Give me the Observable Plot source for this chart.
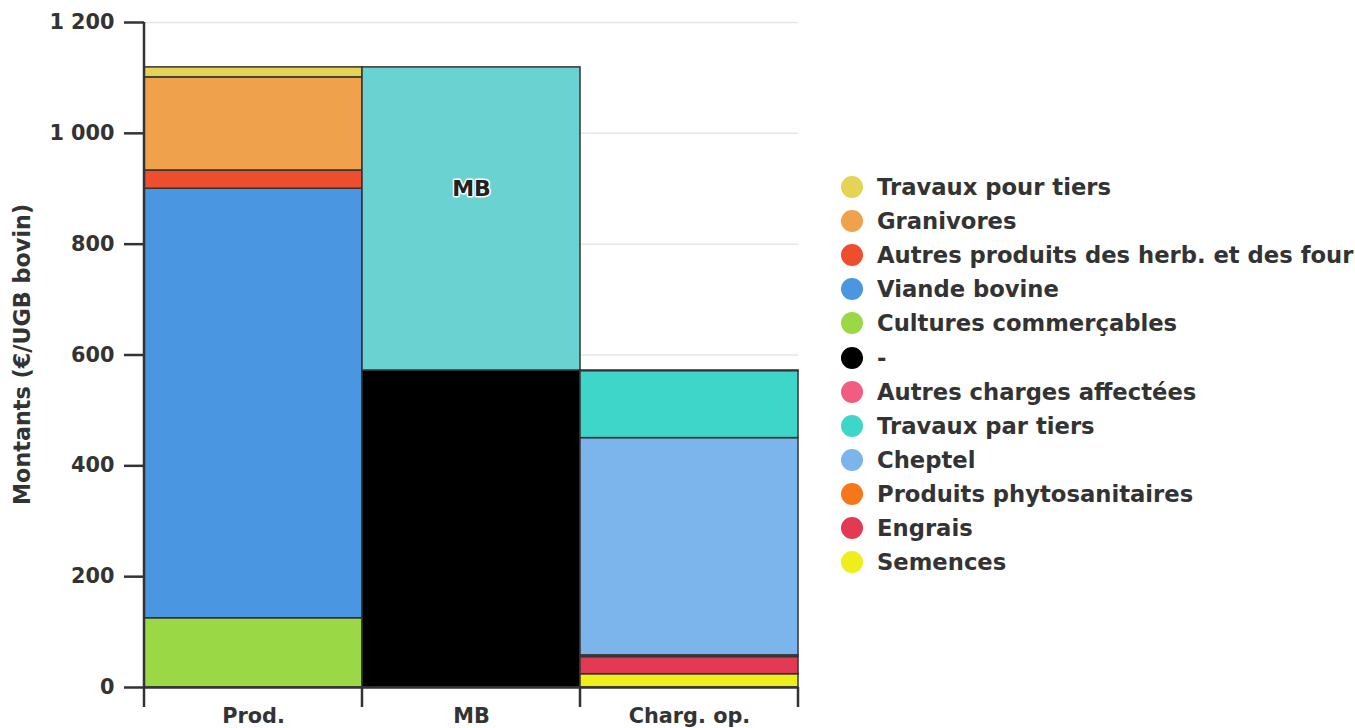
<!DOCTYPE html>
<html><head><meta charset="utf-8">
<script src="https://cdn.jsdelivr.net/npm/d3@7"></script>
<script src="https://cdn.jsdelivr.net/npm/@observablehq/plot@0.6"></script>
<style>
html,body{margin:0;padding:0;background:#fff;overflow:hidden;width:1355px;height:728px}
#wrap{position:relative;width:1355px;height:728px;font-family:"DejaVu Sans",sans-serif;overflow:hidden}
#chart{position:absolute;left:0;top:0}
#legend{position:absolute;left:841px;top:170px;white-space:nowrap}
.row{height:34.1px;display:flex;align-items:center;font-weight:bold;font-size:22.7px;color:#333}
.dot{width:22px;height:22px;border-radius:50%;margin-right:14px;flex:none}
</style></head><body><div id="wrap"><div id="chart"></div><div id="legend"></div></div>
<script>
// ---- data ----
const categories = ["Prod.", "MB", "Charg. op."];
// bottom-to-top stacking order in each column
const prodSeries = ["Cultures commerçables", "Viande bovine", "Autres produits des herb. et des fourrages", "Granivores", "Travaux pour tiers"];
const prodValues = [125, 775, 33, 168, 18];
const mbSeries = ["-", "MB"];
const mbValues = [572, 547];
const chargSeries = ["Semences", "Engrais", "Produits phytosanitaires", "Cheptel", "Travaux par tiers", "Autres charges affectées"];
const chargValues = [24, 31, 3, 392, 121, 1];
const seriesNames = ["Travaux pour tiers", "Granivores", "Autres produits des herb. et des fourrages", "Viande bovine", "Cultures commerçables", "-", "Autres charges affectées", "Travaux par tiers", "Cheptel", "Produits phytosanitaires", "Engrais", "Semences", "MB"];
const seriesColors = ["#e4d354", "#efa24b", "#ee4d2e", "#4a96e0", "#9ad845", "#000000", "#f15c80", "#3dd6c9", "#7cb5ec", "#f7761a", "#e23a53", "#eeee1a", "#6ad3d1"];
const legendNames = seriesNames.slice(0, 12);
const yTicks = [0, 200, 400, 600, 800, 1000, 1200];
const yLabel = "Montants (€/UGB bovin)";

// ---- table ----
const rows = [];
prodSeries.forEach((s, i) => rows.push({cat: categories[0], series: s, value: prodValues[i]}));
mbSeries.forEach((s, i) => rows.push({cat: categories[1], series: s, value: mbValues[i]}));
chargSeries.forEach((s, i) => rows.push({cat: categories[2], series: s, value: chargValues[i]}));
const prodTotal = d3.sum(prodValues);
const mbLabel = [{cat: categories[1], y: prodTotal - 0.4 * mbValues[1], text: "MB"}];

const locale = d3.formatLocale({decimal: ",", thousands: " ", grouping: [3], currency: ["", "€"]});
const fmt = locale.format(",");

const W = 830, H = 728, mL = 144, mR = 32, mT = 22, mB = 41;
const plot = Plot.plot({
  width: W, height: H, marginLeft: mL, marginRight: mR, marginTop: mT, marginBottom: mB,
  style: {fontFamily: "DejaVu Sans", fontWeight: "bold", fontSize: "20.8px", color: "#333", background: "white", overflow: "visible"},
  x: {type: "band", domain: categories, padding: 0},
  y: {domain: [0, 1200]},
  color: {type: "ordinal", domain: seriesNames, range: seriesColors},
  marks: [
    Plot.gridY(yTicks, {stroke: "#e6e6e6", strokeOpacity: 1, strokeWidth: 1.5}),
    Plot.barY(rows, {x: "cat", y: "value", fill: "series", stroke: "#333", strokeWidth: 1.5}),
    Plot.ruleY([0], {stroke: "#333", strokeWidth: 2.5}),
    Plot.axisY(yTicks, {tickSize: 20, tickPadding: 10, tickFormat: fmt, stroke: "#333", strokeWidth: 2.5, label: null}),
    Plot.axisX({tickSize: 0, tickPadding: 21, label: null}),
    Plot.text(mbLabel, {x: "cat", y: "y", text: "text", fill: "#222", stroke: "white", strokeWidth: 3, paintOrder: "stroke", fontSize: 22, fontWeight: "bold"})
  ]
});

// axis lines and band-edge ticks
const svg = d3.select(plot);
const xs = plot.scale("x");
const ys = plot.scale("y");
const edges = categories.map(c => xs.apply(c)).concat([xs.apply(categories[categories.length - 1]) + xs.bandwidth]);
const y0 = ys.apply(0), yTop = ys.apply(1200);
const g = svg.append("g").attr("stroke", "#333").attr("stroke-width", 2.5);
g.append("line").attr("x1", mL).attr("x2", mL).attr("y1", yTop).attr("y2", y0);
edges.forEach(x => g.append("line").attr("x1", x).attr("x2", x).attr("y1", y0).attr("y2", y0 + 20));
svg.append("text")
  .attr("transform", `translate(22,${(y0 + yTop) / 2}) rotate(-90)`)
  .attr("text-anchor", "middle").attr("dominant-baseline", "central")
  .attr("fill", "#333").attr("font-size", 22.3).attr("font-weight", "bold")
  .text(yLabel);

document.getElementById("chart").append(plot);

// legend
const leg = document.getElementById("legend");
legendNames.forEach(n => {
  const r = document.createElement("div"); r.className = "row";
  const d = document.createElement("span"); d.className = "dot";
  d.style.background = seriesColors[seriesNames.indexOf(n)];
  const t = document.createElement("span"); t.textContent = n;
  r.append(d, t); leg.append(r);
});
</script></body></html>
